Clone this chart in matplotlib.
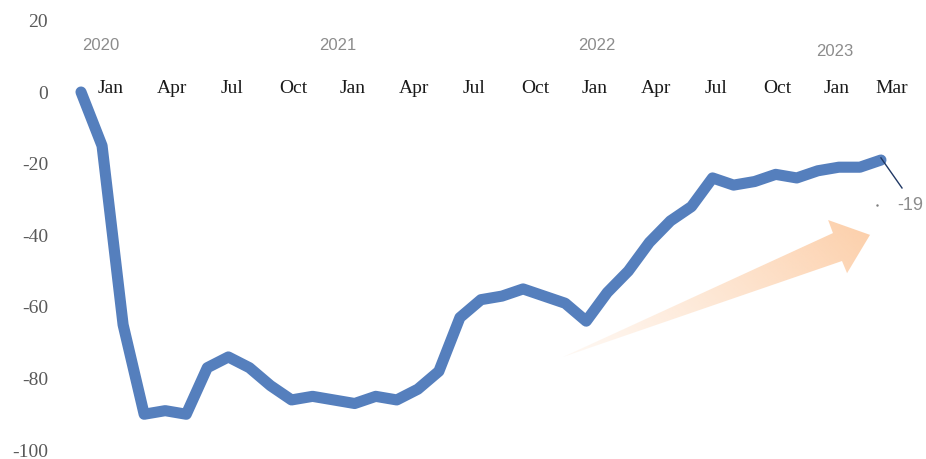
import numpy as np
import matplotlib.pyplot as plt
from matplotlib.patches import Polygon

plt.rcParams['axes.unicode_minus'] = False

# monthly index, Jan 2020 .. Mar 2023
values = [0, -15, -65, -90, -89, -90, -77, -74, -77, -82, -86, -85,
          -86, -87, -85, -86, -83, -78, -63, -58, -57, -55, -57, -59,
          -64, -56, -50, -42, -36, -32, -24, -26, -25, -23, -24, -22,
          -21, -21, -19]
months = np.arange(len(values))

month_labels = ['Jan', 'Apr', 'Jul', 'Oct', 'Jan', 'Apr', 'Jul', 'Oct',
                'Jan', 'Apr', 'Jul', 'Oct', 'Jan', 'Mar']
month_pos = [1.43, 4.32, 7.17, 10.07, 12.92, 15.82, 18.67, 21.57,
             24.42, 27.3, 30.17, 33.06, 35.9, 38.5]
years = ['2020', '2021', '2022', '2023']
year_pos = [(0.95, 13.1), (12.2, 13.1), (24.5, 13.1), (35.8, 11.2)]

fig = plt.figure(figsize=(9.26, 4.59), dpi=100)
ax = fig.add_axes([55 / 926, 0, 1 - 55 / 926, 1])
ax.set_xlim(-1.235, 40.14)
ax.set_ylim(-102.5, 25.7)
for s in ax.spines.values():
    s.set_visible(False)
ax.set_xticks([])
ax.set_yticks([20, 0, -20, -40, -60, -80, -100])
ax.tick_params(axis='y', length=0, pad=5, labelsize=14, labelcolor='#595959')
for lab in ax.get_yticklabels():
    lab.set_fontfamily('Liberation Serif')

# gradient arrow
arrow_pts = np.array([(22.9, -74.0), (35.72, -39.4), (35.49, -35.75),
                      (37.48, -39.9), (36.39, -50.6), (36.15, -47.2)])
poly = Polygon(arrow_pts, closed=True, facecolor='none', edgecolor='none')
ax.add_patch(poly)
gx, gy = np.meshgrid(np.linspace(0, 1, 300), np.linspace(0, 1, 300))
grad = 0.7 * gx + 0.3 * gy
grad = (grad - grad.min()) / (grad.max() - grad.min())
rgba = np.zeros(grad.shape + (4,))
rgba[..., 0] = 252 / 255
rgba[..., 1] = 196 / 255
rgba[..., 2] = 150 / 255
rgba[..., 3] = 0.12 + 0.7 * grad ** 1.2
img = ax.imshow(rgba, extent=(22.9, 37.5, -74.0, -35.7), origin='lower',
                aspect='auto', interpolation='bilinear', zorder=1)
img.set_clip_path(poly)

ax.plot(months, values, color='#557FBD', lw=8, solid_capstyle='round',
        solid_joinstyle='round', zorder=3, clip_on=False)

for lab, x in zip(month_labels, month_pos):
    ax.text(x, 1.1, lab, ha='center', va='center', fontsize=14,
            family='Liberation Serif', color='#1a1a1a')
for yr, (x, y) in zip(years, year_pos):
    ax.text(x, y, yr, ha='center', va='center', fontsize=12,
            family='Liberation Sans', color='#8c8c8c')

# end value label
ax.plot([months[-1], 39.0], [values[-1] + 0.6, -26.8], color='#203864', lw=1, zorder=4)
ax.plot([37.8], [-31.6], marker='.', ms=1.5, color='#7f7f7f')
ax.text(38.76, -31.6, str(values[-1]), ha='left', va='center', fontsize=13,
        family='Liberation Sans', color='#8c8c8c')

fig.savefig('out.png', dpi=100)
